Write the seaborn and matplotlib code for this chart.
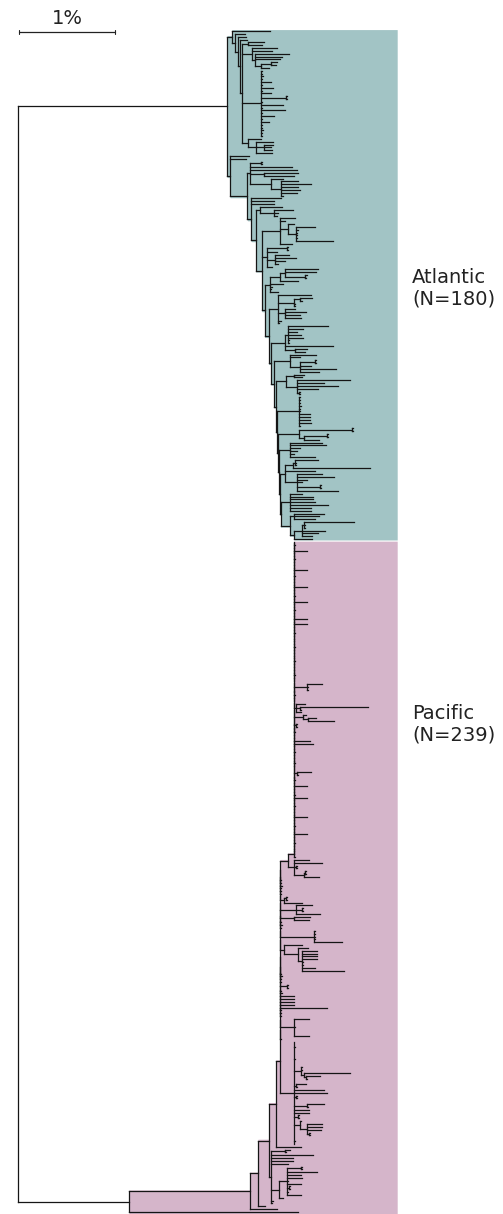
import numpy as np
import matplotlib
matplotlib.use('Agg')
import matplotlib.pyplot as plt
import seaborn as sns
from matplotlib.collections import LineCollection

sns.set_theme(style='white')
plt.rcParams['font.family'] = ['DejaVu Sans']

# ------------------------------------------------------------
# Tree data. Branch lengths in units of 0.01 % divergence
# (scale bar = 100 units = 1 %).
# A leaf is a number (its branch length), an internal node is
# [branch length, child, child, ...]
# ------------------------------------------------------------
ROOT_TO_ATLANTIC = 218
ROOT_TO_PACIFIC = 116
SCALE_BAR = 100
LABELS = ['Atlantic\n(N=180)', 'Pacific\n(N=239)']

# --- Atlantic clade ---
ATL_TOP_COMB = [1, 1, 2, 1, 11, 1, 13, 1, 11, [26, 1, 1], 1, 23, 1, 25, 1,
                14, 1, 8, 1, 1, 2, 1, 1]
ATL_TOP = [5, 40, [3, 10, [3, 9, [2, 8,
                   [2, [7, 16, 14],
                    [11, 26, 21, [3, 35, 28, 26, [6, [11, 6, 5], 8]]],
                    [20] + ATL_TOP_COMB,
                    [7, 13, [8, 18, [8, 10, 8, 9], 17]]]]]]]

ATL_T2 = [3, [11, 1, 1], 43, 49, [14, 36, 31], [22, 12, [10, 18, 31, 18, 20, 17, 2]]]
ATL_T4 = [4, 23, [15, 19, 4, 3]]
ATL_T4B = [19, 16, 5, [8, 6, [9, 19, 2, 1, 1, 1, 38]], 12]
ATL_T5 = [5, [21, 1, 1], 11, [9, 14, 22, 10, 3], 6]
ATL_T6 = [6, [10, [5, 34, 32, [21, 2, 1]], 19], 13, 2, 1, 8]
ATL_T7 = [10, 34, [17, [6, 12, 2], 1, 1], [7, 11, 22, 16, 17], 3, 1]
ATL_T8 = [14, [3, 42, 16, 10, 14, 16, 1, 1], 50, [11, 12, 10]]
ATL_T9 = [16, 27, 11, [11, [15, 1, 1], 11, 37, 20]]
ATL_T10 = [10, [9, 10, 8], [12, 55, 28, 42, 21, [2, 1, 1]]]
ATL_T11 = [23, 1, 1, 1, 2, 1, 1, 11, 11, 11, 12, 1]
ATL_T12 = [22, [55, 1, 1], [5, [24, 1, 1], 16]]
ATL_T13 = [11, 34, 38, 11, 8, 5, 26]
ATL_T14 = [5, [8, [3, 23, 1, 1], 81], 31, [13, 26, 38, 10, 5, [24, 1, 1], 42]]
ATL_T15 = [9, 13, 24, 24, 26, 40, 22, 22]
ATL_T16 = [5, 31, 26, 21]
ATL_T17 = [8, [2, 52, 1, 1], 24, 16, 10]

# spine of the Atlantic staircase: (step length, groups hanging above)
ATL_STAIRS = [(3, [20, 16]), (18, [ATL_T2]), (4, [31, 24, 24]), (5, [ATL_T4]),
              (6, [ATL_T4B, ATL_T5]), (3, [ATL_T6]), (4, [ATL_T7]), (3, [ATL_T8]),
              (3, [ATL_T9]), (2, [ATL_T10]), (1, [ATL_T11]), (1, [ATL_T12]),
              (1, [ATL_T13]), (1, [ATL_T14]), (1, [ATL_T15]), (9, [ATL_T16]),
              (5, [ATL_T17])]
ATL_LAST = 18

# --- Pacific clade ---
PAC_UPPER_COMB = [1, 2, 1, 14, 1, 1, 2, 1, 1, 1, 14, 1, 2, 1, 1, 1, 14, 1, 1, 2,
                  1, 14, 1, 1, 2, 1, 1, 14, 1, 14,
                  1, 1, 2, 1, 1, 1, 1, 2, 1, 1, 1, 1, 2, 1, 1, 1, 1, 2, 1, 1,
                  [14, 16, 1, 1], 1, 2, 1, 1,
                  [3, 9, [4, 71, 1], 5],
                  [10, 3, [5, 8, 27]],
                  [3, 1, 1], 1, 2, 1, 1, 17, 20,
                  1, 1, 2, 1, 1, 1, 2, 1, 1,
                  [4, 14, 1], 1, 2, 1, 14, 1, 1, 2, 14, 1, 1, 2, 1, 1, 1, 14,
                  1, 1, 2, 1, 1, 14, 1, 1, 2, 1, 1, 1, 1, 2]
PAC_SC1 = [6, 16, 30, [3, 1, 1], [11, [1, 1, 1], 16]]
PAC_BACKBONE = [1, 1, 2, 1, 1, 1,
                [4, [2, 1, 1], 19],
                [17, 16, [6, 1, 1], 25],
                [14, 17, 16],
                1, 2, 1,
                [35, 1, 1, 1, 1, 30],
                [4, 19, [15, 10, [4, 15, 15, 15, 15, 1, 1, 13, 44]]],
                1, 2, 1, 1,
                [7, 1, 1],
                1, 2,
                15, 15, 15, 15,
                49, 1, 1, 1,
                [14, 16, 1, 1, 2, 1, 1, 16],
                1]
PAC_LOWER_COMB = [1, 1, 2, 1, 1, 1, 2, 1, 1,
                  [8, 1, 1, [3, 48, [2, 15, 1]]],
                  1, [3, 10, 1], 32, 35, [3, 1, 1],
                  1, [14, 18, 1], 16, 16, [5, 1, 1],
                  [7, 1, [7, 16, 16, 15, [2, 1, 1]]],
                  1, 2, 1]
PAC_CLOW = [3, [14, 5, 1], 43, 22, 22, 17,
            [8, [8, [15, 1, 1], 31, 15, 16, 1, 15, [2, 1, 1], 1, 15], 4], 2, 1]
PAC_STEPS = {'P1': 126, 'P1_tip': 28, 'P2': 8, 'P2_tip': 7, 'P3': 11,
             'P4': 8, 'P4_tip': 26, 'B': 4, 'N289': 8, 'UC': 6, 'LC': 14,
             'bottom_tip': 176}


def comb(length, items):
    # caterpillar with zero-length internal branches, joined near the bottom
    node = [0, items[0], items[1]]
    for it in items[2:-1]:
        node = [0, node, it]
    return [length, node, items[-1]]


def stairs(steps, last):
    node = last
    for length, kids in reversed(steps):
        node = [length] + kids + [node]
    return node


atlantic = [ROOT_TO_ATLANTIC, ATL_TOP, stairs(ATL_STAIRS, ATL_LAST)]

s = PAC_STEPS
n289 = [s['N289'], comb(s['UC'], PAC_UPPER_COMB), PAC_SC1]
backbone = [s['B'], comb(0, [n289] + PAC_BACKBONE), [s['LC']] + PAC_LOWER_COMB]
p4 = [s['P4'], backbone, s['P4_tip']]
p3 = [s['P3'], p4, PAC_CLOW]
p2 = [s['P2'], p3, s['P2_tip']]
p1 = [s['P1'], p2, s['P1_tip']]
pacific = [ROOT_TO_PACIFIC, p1, s['bottom_tip']]


# ------------------------------------------------------------
# Layout: leaves on consecutive rows, node at middle of children
# ------------------------------------------------------------
def layout(node, x0, segs, nodes, counter):
    if isinstance(node, list):
        x = x0 + node[0]
        ys = [layout(c, x, segs, nodes, counter) for c in node[1:]]
        y = (ys[0] + ys[-1]) / 2
        segs.append([(x, ys[0]), (x, ys[-1])])
        nodes.append((x, ys[0], ys[-1]))
    else:
        x = x0 + node
        y = counter[0]
        counter[0] += 1
    segs.append([(x0, y), (x, y)])
    return y


segs = []
counter = [0]
atl_nodes, pac_nodes = [], []
y_atl = layout(atlantic, 0, segs, atl_nodes, counter)
n_atl = counter[0]
y_pac = layout(pacific, 0, segs, pac_nodes, counter)
n_total = counter[0]
segs.append([(0, y_atl), (0, y_pac)])

# pixel geometry of the original figure
W, H = 503, 1214
X0_PX, UNIT_PX = 18, 0.96
TOP_PX, BOT_PX = 31, 1212
row_px = (BOT_PX - TOP_PX) / (n_total - 1)
SHADE_RIGHT = 395

fig = plt.figure(figsize=(W / 100, H / 100), dpi=100)
ax = fig.add_axes([0, 0, 1, 1])
ax.set_axis_off()
ax.set_xlim(-X0_PX / UNIT_PX, (W - X0_PX) / UNIT_PX)
ax.set_ylim((H - TOP_PX) / row_px, -TOP_PX / row_px)


def shade(nodes, y_lo, y_hi, color):
    ys = np.arange(y_lo, y_hi, 0.02)
    xb = np.full(ys.shape, np.inf)
    for x, a, b in nodes:
        m = (ys >= a - 0.5) & (ys <= b + 0.5)
        xb[m] = np.minimum(xb[m], x)
    # fill rows not covered by any node with their neighbour's value
    good = np.isfinite(xb)
    xb = np.interp(np.arange(len(xb)), np.flatnonzero(good), xb[good])
    ax.fill_betweenx(ys, xb, SHADE_RIGHT, color=color, lw=0, zorder=0)


shade(atl_nodes, -0.5, n_atl - 0.5 - 0.2, '#A2C4C5')
shade(pac_nodes, n_atl - 0.5 + 0.2, n_total + 1, '#D5B5CA')

ax.add_collection(LineCollection(segs, colors='#151515', linewidths=0.9,
                                 capstyle='projecting', zorder=2))

# scale bar
trans = ax.get_xaxis_transform()
y_bar = 1 - 32 / H
ax.plot([1, 1 + SCALE_BAR], [y_bar, y_bar], color='#222222', lw=0.9, transform=trans)
for xe in (1, 1 + SCALE_BAR):
    ax.plot([xe, xe], [y_bar - 2 / H, y_bar + 2 / H], color='#222222', lw=0.8,
            transform=trans)
ax.text(1 + SCALE_BAR / 2, 1 - 24 / H, '1%', ha='center', va='baseline',
        fontsize=14, color='#222222', transform=trans)

# clade labels
label_x = (412 - X0_PX) / UNIT_PX
ax.text(label_x, 1 - 288 / H, LABELS[0], ha='left', va='center', fontsize=14,
        color='#222222', linespacing=1.15, transform=trans)
ax.text(label_x, 1 - 724 / H, LABELS[1], ha='left', va='center', fontsize=14,
        color='#222222', linespacing=1.15, transform=trans)

fig.savefig('out.png', dpi=100)
print(n_atl, n_total - n_atl, TOP_PX + y_atl * row_px, TOP_PX + y_pac * row_px)
